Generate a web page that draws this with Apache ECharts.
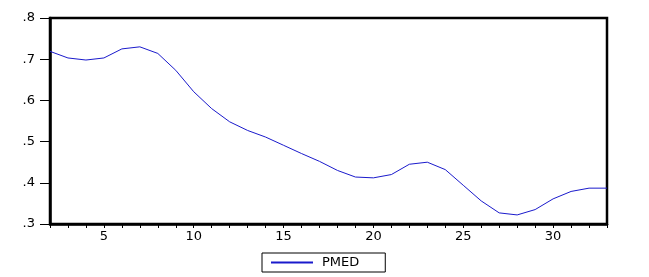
<!DOCTYPE html>
<html>
<head>
<meta charset="utf-8">
<script src="https://cdn.jsdelivr.net/npm/echarts@6/dist/echarts.min.js"></script>
<style>
html,body{margin:0;padding:0;background:#fff;}
#chart{width:649px;height:277px;}
</style>
</head>
<body>
<div id="chart"></div>
<script>
const periods = [2,3,4,5,6,7,8,9,10,11,12,13,14,15,16,17,18,19,20,21,22,23,24,25,26,27,28,29,30,31,32,33];
const pmed = [0.719,0.703,0.698,0.703,0.725,0.730,0.714,0.673,0.621,0.580,0.548,0.527,0.511,0.491,0.471,0.452,0.430,0.414,0.412,0.420,0.445,0.450,0.432,0.394,0.356,0.327,0.322,0.335,0.361,0.379,0.387,0.387];
const seriesName = 'PMED';
const yTicks = [0.3,0.4,0.5,0.6,0.7,0.8];

const chart = echarts.init(document.getElementById('chart'), null, {renderer:'canvas'});
const font = 'DejaVu Sans';
chart.setOption({
  animation:false,
  backgroundColor:'#fff',
  grid:{left:50,right:42,top:18,bottom:53,show:true,borderColor:'#000',borderWidth:2.5,backgroundColor:'transparent'},
  legend:{
    data:[seriesName], left:262, top:253,
    borderColor:'#000', borderWidth:1, borderRadius:0,
    padding:[3,26,3,9],
    itemWidth:42, itemHeight:2, icon:'rect',
    textStyle:{fontFamily:font,fontSize:13,color:'#000',padding:[0,0,0,4]}
  },
  xAxis:{
    type:'value', min:2, max:33, interval:1,
    axisLine:{show:true,lineStyle:{color:'#000',width:2.5}},
    axisTick:{show:true,length:4,lineStyle:{color:'#000',width:1}},
    axisLabel:{fontFamily:font,fontSize:13,color:'#000',margin:6,
      formatter:function(v){return v%5===0?String(v):'';}},
    splitLine:{show:false}
  },
  yAxis:{
    type:'value', min:yTicks[0], max:yTicks[yTicks.length-1], interval:0.1,
    axisLine:{show:true,lineStyle:{color:'#000',width:2.5}},
    axisTick:{show:true,length:10,lineStyle:{color:'#000',width:1}},
    axisLabel:{fontFamily:font,fontSize:13,color:'#000',margin:15,
      formatter:function(v){return v.toFixed(1).replace(/^0/,'');}},
    splitLine:{show:false}
  },
  series:[{
    name:seriesName, type:'line', symbol:'none',
    data:periods.map((p,i)=>[p,pmed[i]]),
    lineStyle:{color:'#1a1acc',width:1},
    itemStyle:{color:'#1a1acc'}
  }]
});
</script>
</body>
</html>
